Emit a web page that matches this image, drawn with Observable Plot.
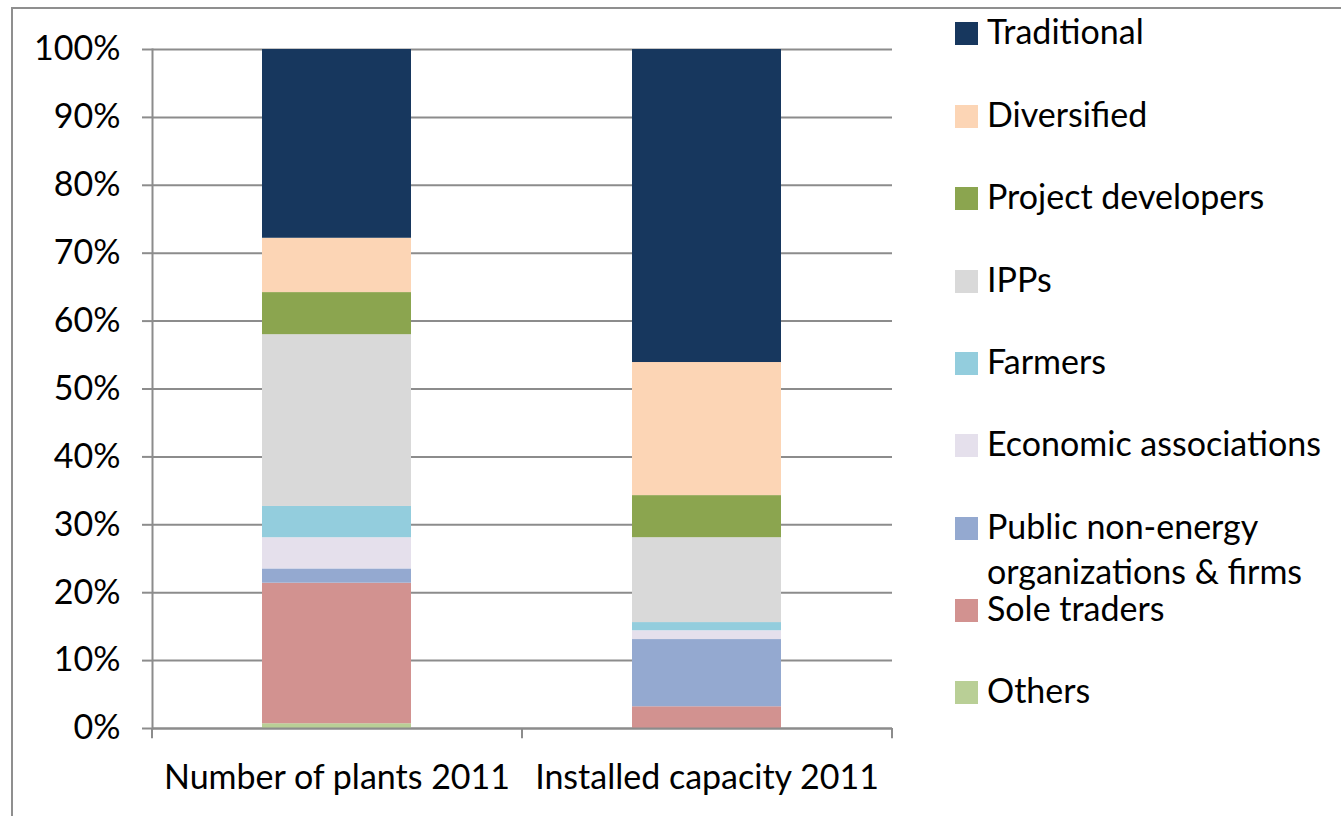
<!DOCTYPE html>
<html>
<head>
<meta charset="utf-8">
<script src="https://cdn.jsdelivr.net/npm/d3@7"></script>
<script src="https://cdn.jsdelivr.net/npm/@observablehq/plot@0.6"></script>
<style>
  html, body { margin: 0; padding: 0; width: 1341px; height: 816px; overflow: hidden; background: #fff; }
  #border { position: absolute; left: 11px; top: 7px; width: 1400px; height: 900px; border-left: 2px solid #8f8f8f; border-top: 2px solid #8f8f8f; }
  #chart { position: absolute; left: 0; top: 0; }
  #legend { position: absolute; left: 0; top: 0; font-family: Lato, sans-serif; font-size: 34px; color: #000; }
  .sw { position: absolute; width: 23px; height: 23px; }
  .lt { position: absolute; left: 987px; line-height: 40px; white-space: nowrap; }
</style>
</head>
<body>
<div id="border"></div>
<div id="chart"></div>
<div id="legend"></div>
<script>
const categories = ["Number of plants 2011", "Installed capacity 2011"];
const seriesNames = ["Others", "Sole traders", "Public non-energy organizations & firms", "Economic associations", "Farmers", "IPPs", "Project developers", "Diversified", "Traditional"];
const seriesColors = ["#b9cf96", "#d29290", "#94a9d0", "#e5e0ec", "#93cddd", "#d9d9d9", "#8ba54f", "#fcd5b5", "#17375e"];
const plantsShares = [0.7, 20.7, 2.1, 4.6, 4.6, 25.3, 6.2, 8.0, 27.8];
const capacityShares = [0, 3.2, 9.9, 1.3, 1.2, 12.5, 6.2, 19.6, 46.1];
const yTicks = [0, 10, 20, 30, 40, 50, 60, 70, 80, 90, 100];

const data = [];
seriesNames.forEach((s, i) => {
  data.push({category: categories[0], series: s, value: plantsShares[i]});
  data.push({category: categories[1], series: s, value: capacityShares[i]});
});

const font = "Lato, sans-serif";
const chart = Plot.plot({
  width: 900,
  height: 800,
  marginTop: 49,
  marginBottom: 72,
  marginLeft: 152,
  marginRight: 8,
  style: {fontFamily: font, fontSize: "34px", color: "#000", background: "transparent", overflow: "visible"},
  x: {domain: categories, paddingInner: 0.597, paddingOuter: 0.2985, label: null},
  y: {domain: [0, 100], label: null},
  color: {domain: seriesNames, range: seriesColors},
  marks: [
    Plot.ruleY(yTicks, {stroke: "#8c8c8c", strokeWidth: 2}),
    Plot.barY(data, {x: "category", y: "value", fill: "series", order: seriesNames}),
    Plot.frame({anchor: "left", stroke: "#8c8c8c", strokeWidth: 2}),
    Plot.ruleY([0], {stroke: "#8c8c8c", strokeWidth: 2}),
    Plot.ruleX(categories, {x: d => d, dx: -185, y1: 0, y2: -1.5, stroke: "#8c8c8c", strokeWidth: 2}),
    Plot.ruleX([categories[categories.length - 1]], {x: d => d, dx: 185, y1: 0, y2: -1.5, stroke: "#8c8c8c", strokeWidth: 2}),
    Plot.axisY({ticks: yTicks, tickSize: 10, tickPadding: 22, tickFormat: d => d + "%", stroke: "#8c8c8c", strokeWidth: 2, fill: "#000", fontSize: 34, label: null}),
    Plot.axisX({tickSize: 0, tickPadding: 36, fill: "#000", fontSize: 34, label: null})
  ]
});
document.getElementById("chart").appendChild(chart);

// Legend (top of list = top of stack)
const legendItems = [
  {i: 8, y: 33, lines: ["Traditional"]},
  {i: 7, y: 116, lines: ["Diversified"]},
  {i: 6, y: 198, lines: ["Project developers"]},
  {i: 5, y: 281, lines: ["IPPs"]},
  {i: 4, y: 363, lines: ["Farmers"]},
  {i: 3, y: 445, lines: ["Economic associations"]},
  {i: 2, y: 528, lines: ["Public non-energy", "organizations & firms"]},
  {i: 1, y: 610, lines: ["Sole traders"]},
  {i: 0, y: 692, lines: ["Others"]}
];
const legend = document.getElementById("legend");
legendItems.forEach(item => {
  const sw = document.createElement("div");
  sw.className = "sw";
  sw.style.left = "955px";
  sw.style.top = (item.y - 11.5) + "px";
  sw.style.background = seriesColors[item.i];
  legend.appendChild(sw);
  item.lines.forEach((line, k) => {
    const t = document.createElement("div");
    t.className = "lt";
    t.style.top = (item.y - 22 + k * 45) + "px";
    t.textContent = line;
    legend.appendChild(t);
  });
});
</script>
</body>
</html>
